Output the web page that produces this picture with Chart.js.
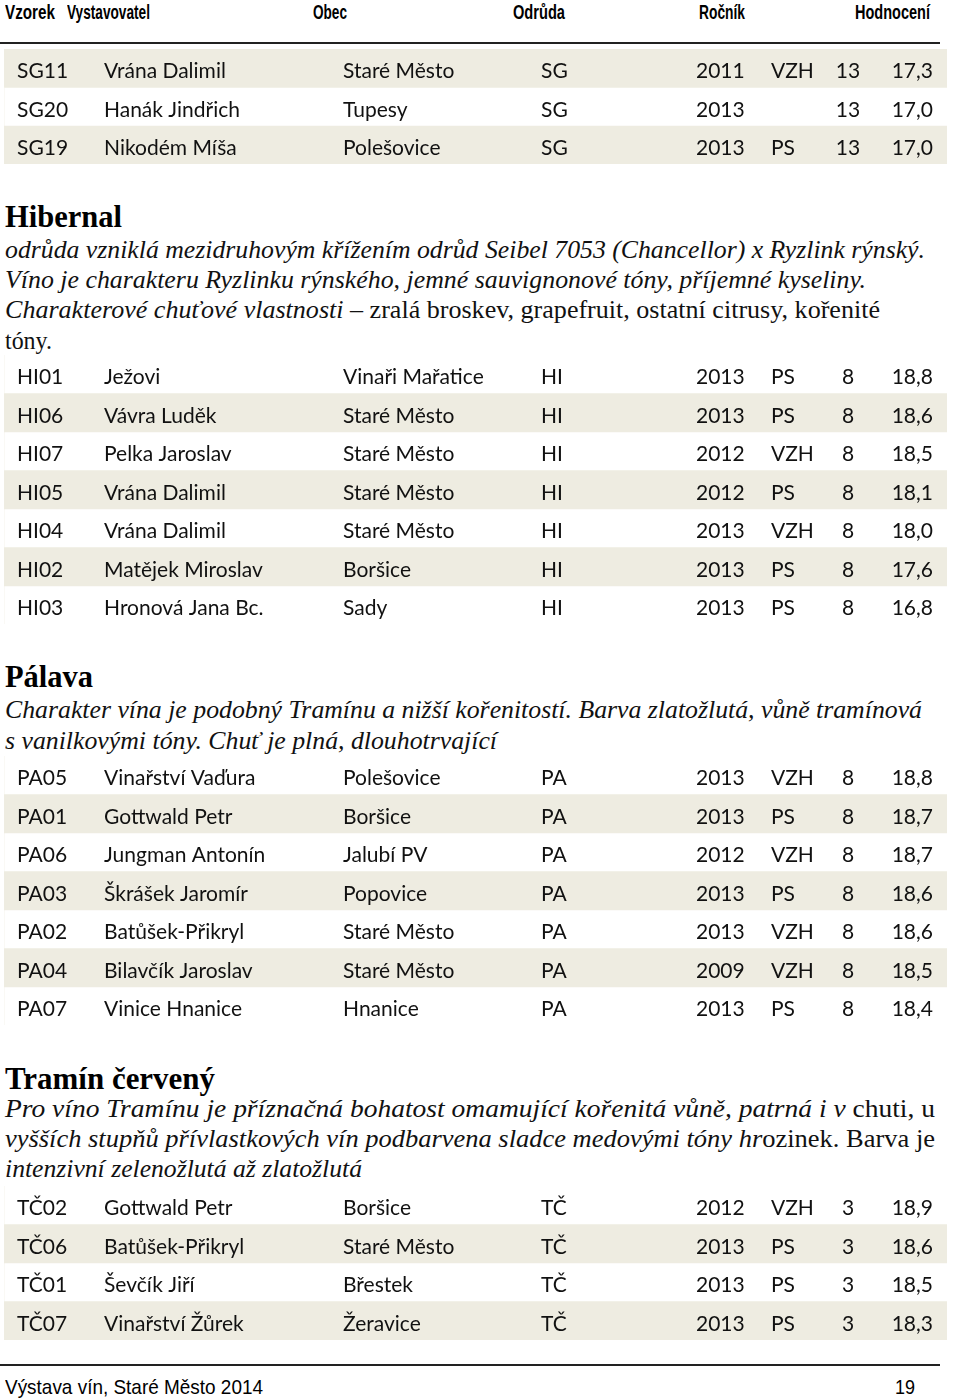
<!DOCTYPE html>
<html>
<head>
<meta charset="utf-8">
<script src="https://cdn.jsdelivr.net/npm/chart.js@4.4.1/dist/chart.umd.min.js"></script>
<style>
  html, body { margin: 0; padding: 0; background: #fff; }
  #page { position: relative; width: 960px; height: 1399px; overflow: hidden; }
  .fit { position: absolute; white-space: nowrap; transform-origin: 0 50%; color: #000; line-height: 1; }
  .hd { font-family: "Liberation Sans Narrow", "Liberation Sans", sans-serif; font-weight: bold; font-size: 20px; }
  .h2 { font-family: "Liberation Serif", serif; font-weight: bold; font-size: 32px; }
  .tx { font-family: "Liberation Serif", serif; font-style: italic; font-size: 25px; color: #111; }
  .tx .up { font-style: normal; }
  .ft { font-family: "Liberation Sans Narrow", "Liberation Sans", sans-serif; font-size: 21px; }
  .rule { position: absolute; left: 0; width: 940px; height: 2px; background: #222; }
  .tbl { position: absolute; left: 4px; width: 943px; }
</style>
</head>
<body>
<div id="page">
  <div class="fit hd" data-x="5" data-w="50" data-y="12">Vzorek</div>
  <div class="fit hd" data-x="67" data-w="83" data-y="12">Vystavovatel</div>
  <div class="fit hd" data-x="313" data-w="34" data-y="12">Obec</div>
  <div class="fit hd" data-x="513" data-w="52" data-y="12">Odrůda</div>
  <div class="fit hd" data-x="699" data-w="46" data-y="12">Ročník</div>
  <div class="fit hd" data-x="855" data-w="75" data-y="12">Hodnocení</div>
  <div class="rule" style="top:42px"></div>

  <div class="tbl" id="t0"><canvas id="c0"></canvas></div>

  <div class="fit h2" data-x="5" data-w="117" data-y="216">Hibernal</div>
  <div class="fit tx" data-x="5" data-w="920" data-y="249">odrůda vzniklá mezidruhovým křížením odrůd Seibel 7053 (Chancellor) x Ryzlink rýnský.</div>
  <div class="fit tx" data-x="5" data-w="861" data-y="279">Víno je charakteru Ryzlinku rýnského, jemné sauvignonové tóny, příjemné kyseliny.</div>
  <div class="fit tx" data-x="5" data-w="875" data-y="309">Charakterové chuťové vlastnosti <span class="up">– zralá broskev, grapefruit, ostatní citrusy, kořenité</span></div>
  <div class="fit tx" data-x="5" data-w="47" data-y="340"><span class="up">tóny.</span></div>

  <div class="tbl" id="t1"><canvas id="c1"></canvas></div>

  <div class="fit h2" data-x="5" data-w="88" data-y="676">Pálava</div>
  <div class="fit tx" data-x="5" data-w="917" data-y="709">Charakter vína je podobný Tramínu a nižší kořenitostí. Barva zlatožlutá, vůně tramínová</div>
  <div class="fit tx" data-x="5" data-w="492" data-y="740">s vanilkovými tóny. Chuť je plná, dlouhotrvající</div>

  <div class="tbl" id="t2"><canvas id="c2"></canvas></div>

  <div class="fit h2" data-x="5" data-w="210" data-y="1078">Tramín červený</div>
  <div class="fit tx" data-x="5" data-w="930" data-y="1108">Pro víno Tramínu je příznačná bohatost omamující kořenitá vůně, patrná i v <span class="up">chuti, u</span></div>
  <div class="fit tx" data-x="5" data-w="930" data-y="1138">vyšších stupňů přívlastkových vín podbarvena sladce medovými tóny hr<span class="up">ozinek. Barva je</span></div>
  <div class="fit tx" data-x="5" data-w="357" data-y="1168">intenzivní zelenožlutá až zlatožlutá</div>

  <div class="tbl" id="t3"><canvas id="c3"></canvas></div>

  <div class="rule" style="top:1364px"></div>
  <div class="fit ft" data-x="5" data-w="258" data-y="1386">Výstava vín, Staré Město 2014</div>
  <div class="fit ft" data-x="895" data-w="20" data-y="1386">19</div>
</div>

<script>
// data, one entry per sample
const codes = ["SG11", "SG20", "SG19",
  "HI01", "HI06", "HI07", "HI05", "HI04", "HI02", "HI03",
  "PA05", "PA01", "PA06", "PA03", "PA02", "PA04", "PA07",
  "TČ02", "TČ06", "TČ01", "TČ07"];
const exhibitors = ["Vrána Dalimil", "Hanák Jindřich", "Nikodém Míša",
  "Ježovi", "Vávra Luděk", "Pelka Jaroslav", "Vrána Dalimil", "Vrána Dalimil", "Matějek Miroslav", "Hronová Jana Bc.",
  "Vinařství Vaďura", "Gottwald Petr", "Jungman Antonín", "Škrášek Jaromír", "Batůšek-Přikryl", "Bilavčík Jaroslav", "Vinice Hnanice",
  "Gottwald Petr", "Batůšek-Přikryl", "Ševčík Jiří", "Vinařství Žůrek"];
const villages = ["Staré Město", "Tupesy", "Polešovice",
  "Vinaři Mařatice", "Staré Město", "Staré Město", "Staré Město", "Staré Město", "Boršice", "Sady",
  "Polešovice", "Boršice", "Jalubí PV", "Popovice", "Staré Město", "Staré Město", "Hnanice",
  "Boršice", "Staré Město", "Břestek", "Žeravice"];
const varieties = ["SG", "SG", "SG",
  "HI", "HI", "HI", "HI", "HI", "HI", "HI",
  "PA", "PA", "PA", "PA", "PA", "PA", "PA",
  "TČ", "TČ", "TČ", "TČ"];
const years = [2011, 2013, 2013,
  2013, 2013, 2012, 2012, 2013, 2013, 2013,
  2013, 2013, 2012, 2013, 2013, 2009, 2013,
  2012, 2013, 2013, 2013];
const classes = ["VZH", "", "PS",
  "PS", "PS", "VZH", "PS", "VZH", "PS", "PS",
  "VZH", "PS", "VZH", "PS", "VZH", "VZH", "PS",
  "VZH", "PS", "PS", "PS"];
const counts = [13, 13, 13,
  8, 8, 8, 8, 8, 8, 8,
  8, 8, 8, 8, 8, 8, 8,
  3, 3, 3, 3];
const scores = [17.3, 17.0, 17.0,
  18.8, 18.6, 18.5, 18.1, 18.0, 17.6, 16.8,
  18.8, 18.7, 18.7, 18.6, 18.6, 18.5, 18.4,
  18.9, 18.6, 18.5, 18.3];
const tableGroups = ["SG", "HI", "PA", "TČ"];

// layout
const tableTops = [48.5, 354.5, 755.5, 1185.5];
const shadeFirst = [true, false, false, false];
const rowH = 38.5;
const colX = [13, 100, 339, 537, 692, 767, 844, 929]; // relative to table canvas
const stripe = "#EEECE1";

function fmt(v) { return v.toFixed(1).replace(".", ","); }

const cellText = {
  id: "cellText",
  afterDatasetsDraw(chart) {
    const ctx = chart.ctx;
    const y = chart.scales.y;
    const rows = chart.config.options.rows;
    ctx.save();
    ctx.font = '21px Lato, "Open Sans", sans-serif';
    ctx.fillStyle = "#111";
    ctx.textBaseline = "middle";
    rows.forEach((r, i) => {
      const py = y.getPixelForValue(i) + 3;
      ctx.textAlign = "left";
      ctx.fillText(codes[r], colX[0], py);
      ctx.fillText(exhibitors[r], colX[1], py);
      ctx.fillText(villages[r], colX[2], py);
      ctx.fillText(varieties[r], colX[3], py);
      ctx.fillText(String(years[r]), colX[4], py);
      ctx.fillText(classes[r], colX[5], py);
      ctx.textAlign = "center";
      ctx.fillText(String(counts[r]), colX[6], py);
      ctx.textAlign = "right";
      ctx.fillText(fmt(scores[r]), colX[7], py);
    });
    ctx.restore();
  }
};

function buildTable(t) {
  const rows = [];
  varieties.forEach((v, i) => { if (v === tableGroups[t]) rows.push(i); });
  const box = document.getElementById("t" + t);
  box.style.top = tableTops[t] + "px";
  box.style.height = (rows.length * rowH) + "px";
  const shade = rows.map((r, k) => ((k % 2 === 0) === shadeFirst[t]) ? 1 : 0);
  new Chart(document.getElementById("c" + t), {
    type: "bar",
    data: {
      labels: rows.map(r => codes[r]),
      datasets: [{
        data: shade,
        backgroundColor: stripe,
        borderWidth: 0,
        barPercentage: 1,
        categoryPercentage: 1,
      }],
    },
    options: {
      rows: rows,
      indexAxis: "y",
      responsive: true,
      maintainAspectRatio: false,
      animation: false,
      events: [],
      layout: { padding: 0 },
      plugins: { legend: { display: false }, tooltip: { enabled: false } },
      scales: {
        x: { display: false, min: 0, max: 1 },
        y: { display: false },
      },
    },
    plugins: [cellText],
  });
}

function fitLines() {
  document.querySelectorAll(".fit").forEach(el => {
    const w = el.getBoundingClientRect().width;
    const h = el.getBoundingClientRect().height;
    const target = +el.dataset.w;
    el.style.left = el.dataset.x + "px";
    el.style.top = (+el.dataset.y - h / 2) + "px";
    el.style.transform = "scaleX(" + (target / w) + ")";
  });
}

document.fonts.load('21px Lato').then(() => document.fonts.ready).then(() => {
  fitLines();
  for (let t = 0; t < tableGroups.length; t++) buildTable(t);
});
</script>
</body>
</html>
